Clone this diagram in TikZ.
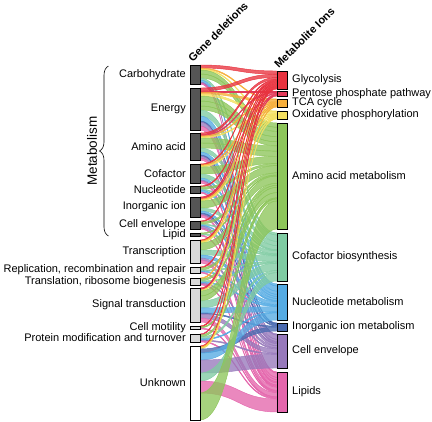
\documentclass[tikz,border=0pt]{standalone}
\usepackage{fontspec}
\setmainfont{Liberation Sans}
\usepackage{tikz}
\usetikzlibrary{decorations.pathreplacing}

% metabolite ion colours
\definecolor{c1}{HTML}{E8333F}
\definecolor{c2}{HTML}{E23A5A}
\definecolor{c3}{HTML}{F6AE3B}
\definecolor{c4}{HTML}{F4E060}
\definecolor{c5}{HTML}{8DC55A}
\definecolor{c6}{HTML}{7FCBA2}
\definecolor{c7}{HTML}{55ABE3}
\definecolor{c8}{HTML}{4A6AB0}
\definecolor{c9}{HTML}{9779BB}
\definecolor{c10}{HTML}{E466AC}
\definecolor{metabar}{HTML}{555555}
\definecolor{otherbar}{HTML}{D9D9D9}

\begin{document}
\begin{tikzpicture}[x=1bp, y=-1bp,
    font=\fontsize{11bp}{13bp}\selectfont,
    bar/.style={draw=black, line width=0.8bp},
    ribbon/.style={fill opacity=0.78, draw opacity=1, line width=0.45bp},
    leftlab/.style={anchor=east, inner sep=0pt},
    rightlab/.style={anchor=west, inner sep=0pt},
    header/.style={rotate=45, anchor=south west, inner sep=0pt,
        font=\fontsize{11bp}{13bp}\selectfont\bfseries}]

    \useasboundingbox (0,0) rectangle (432,422);

    % Bars: index/top/bottom/fill/label
    \def\leftbars{1/65/84/metabar/Carbohydrate, 2/88/130/metabar/Energy,
        3/133/160/metabar/Amino acid, 4/164/183/metabar/Cofactor,
        5/186/193/metabar/Nucleotide, 6/197/217/metabar/Inorganic ion,
        7/221/229/metabar/Cell envelope, 8/233/236/metabar/Lipid,
        9/240/263/otherbar/Transcription,
        10/267/273/otherbar/{Replication, recombination and repair},
        11/278/285/otherbar/{Translation, ribosome biogenesis},
        12/288/322/otherbar/Signal transduction, 13/326/329/otherbar/Cell motility,
        14/334/342/otherbar/Protein modification and turnover,
        15/346/420/white/Unknown}
    \def\rightbars{1/71/89/Glycolysis, 2/91/96/Pentose phosphate pathway,
        3/99/107/TCA cycle, 4/111/119/Oxidative phosphorylation,
        5/123/229/Amino acid metabolism, 6/233/281/Cofactor biosynthesis,
        7/284/320/Nucleotide metabolism, 8/323/331/Inorganic ion metabolism,
        9/334/368/Cell envelope, 10/372/412/Lipids}

    % Flows: gene category/ion category/weight
    \def\flows{1/1/3, 1/3/1, 1/4/1, 1/5/4, 1/5/4, 1/6/2, 1/7/2, 1/9/1, 1/10/1,
        2/1/3, 2/2/1, 2/3/2, 2/4/2, 2/5/5, 2/5/5, 2/5/4, 2/6/6, 2/7/5, 2/8/1, 2/9/4, 2/10/4,
        3/1/2, 3/2/1, 3/3/1, 3/4/1, 3/5/5, 3/5/5, 3/6/4, 3/7/3, 3/8/1, 3/9/2, 3/10/2,
        4/1/1, 4/3/1, 4/4/1, 4/5/7, 4/6/4, 4/7/2, 4/9/1, 4/10/2,
        5/1/1, 5/5/2, 5/6/1, 5/7/2, 5/10/1,
        6/1/1, 6/2/1, 6/3/1, 6/4/1, 6/5/7, 6/6/3, 6/7/2, 6/8/1, 6/9/1, 6/10/2,
        7/1/1, 7/5/2, 7/6/1, 7/7/1, 7/9/2, 7/10/1,
        8/5/1, 8/6/1, 8/10/1,
        9/1/1, 9/3/1, 9/4/1, 9/5/7, 9/6/5, 9/7/3, 9/9/2, 9/10/3,
        10/1/1, 10/5/2, 10/6/1, 10/7/1, 10/10/1,
        11/3/1, 11/5/2, 11/6/1, 11/7/1, 11/9/1, 11/10/1,
        12/1/1, 12/2/1, 12/4/1, 12/5/5, 12/5/5, 12/6/7, 12/7/5, 12/8/1, 12/9/4, 12/10/4,
        13/1/1, 13/5/1, 13/10/1,
        14/2/1, 14/5/2, 14/6/2, 14/7/1, 14/9/1, 14/10/1,
        15/1/1, 15/3/1, 15/4/1, 15/8/4, 15/7/7, 15/9/13, 15/6/8, 15/10/12, 15/5/27}

    % store bar positions
    \foreach \i/\t/\b/\f/\lab in \leftbars {
        \expandafter\xdef\csname lt\i\endcsname{\t}
        \expandafter\xdef\csname lb\i\endcsname{\b}
        \expandafter\xdef\csname lp\i\endcsname{\t}
        \expandafter\xdef\csname ls\i\endcsname{0}
    }
    \foreach \i/\t/\b/\lab in \rightbars {
        \expandafter\xdef\csname rt\i\endcsname{\t}
        \expandafter\xdef\csname rb\i\endcsname{\b}
        \expandafter\xdef\csname rp\i\endcsname{\t}
        \expandafter\xdef\csname rs\i\endcsname{0}
    }

    % totals per bar
    \foreach \s/\d/\w in \flows {
        \edef\old{\csname ls\s\endcsname}
        \pgfmathsetmacro\tmp{\old+\w}
        \expandafter\xdef\csname ls\s\endcsname{\tmp}
        \edef\old{\csname rs\d\endcsname}
        \pgfmathsetmacro\tmp{\old+\w}
        \expandafter\xdef\csname rs\d\endcsname{\tmp}
    }

    % Ribbons
    \foreach \s/\d/\w in \flows {
        \edef\ya{\csname lp\s\endcsname}
        \edef\yc{\csname rp\d\endcsname}
        \edef\lh{\csname lb\s\endcsname-\csname lt\s\endcsname}
        \edef\rh{\csname rb\d\endcsname-\csname rt\d\endcsname}
        \edef\lsum{\csname ls\s\endcsname}
        \edef\rsum{\csname rs\d\endcsname}
        \pgfmathsetmacro\yb{\ya+\w*(\lh)/\lsum}
        \pgfmathsetmacro\yd{\yc+\w*(\rh)/\rsum}
        \filldraw[ribbon, fill=c\d, draw=c\d] (200,\ya) .. controls (238.5,\ya) and (238.5,\yc) .. (277,\yc)
            -- (277,\yd) .. controls (238.5,\yd) and (238.5,\yb) .. (200,\yb) -- cycle;
        \expandafter\xdef\csname lp\s\endcsname{\yb}
        \expandafter\xdef\csname rp\d\endcsname{\yd}
    }

    % Gene deletion bars
    \foreach \i/\t/\b/\f/\lab in \leftbars {
        \draw[bar, fill=\f] (190,\t) rectangle (200,\b);
        \node[leftlab] (l\i) at (186,{(\t+\b)/2}) {\lab};
    }

    % Metabolite ion bars
    \foreach \i/\t/\b/\lab in \rightbars {
        \draw[bar, fill=c\i] (277,\t) rectangle (287,\b);
        \node[rightlab] (r\i) at (292,{(\t+\b)/2}) {\lab};
    }

    % Headers
    \node[header] (genes) at (193,63) {Gene deletions};
    \node[header] (ions) at (279,69) {Metabolite Ions};

    % Metabolism brace
    \draw[line width=0.6bp, decorate, decoration={brace, amplitude=9bp}] (108.5,236) -- (108.5,66);
    \node[rotate=90, font=\fontsize{13.5bp}{15bp}\selectfont] (metab) at (92,151) {Metabolism};

\end{tikzpicture}
\end{document}
